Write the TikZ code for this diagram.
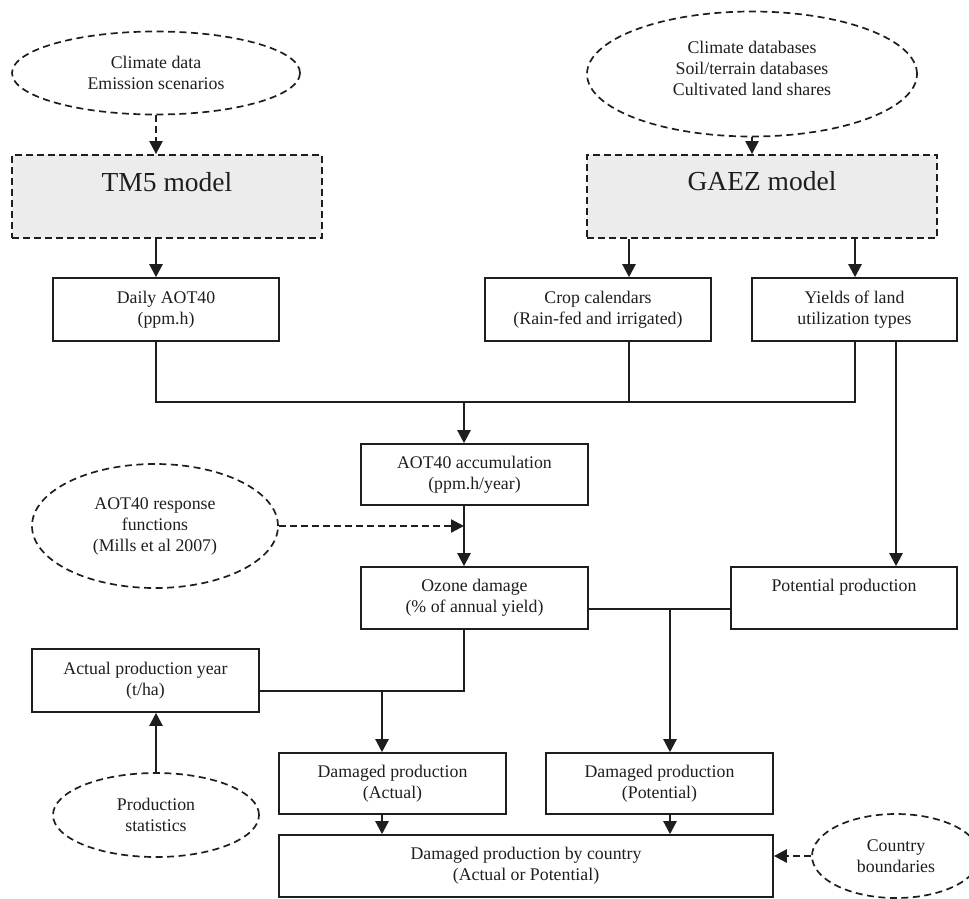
\documentclass[tikz,border=0pt]{standalone}
\usepackage{fontspec}
\setmainfont{Liberation Serif}
\usetikzlibrary{shapes.geometric,arrows.meta}
\definecolor{ink}{HTML}{1E1E1E}
\definecolor{modelfill}{HTML}{ECECEC}
\begin{document}
\begin{tikzpicture}[x=1pt,y=-1pt,
  txt/.style={font=\fontsize{17.8}{21}\selectfont, text=ink},
  bigtxt/.style={font=\fontsize{27.5}{32}\selectfont, text=ink},
  box/.style={txt, draw=ink, line width=1.6pt, rectangle, inner sep=0pt, align=center},
  model/.style={draw=ink, line width=1.8pt, dash pattern=on 7pt off 4pt, fill=modelfill, rectangle, inner sep=0pt},
  oval/.style={txt, draw=ink, line width=1.7pt, dash pattern=on 7pt off 4.5pt, ellipse, inner sep=0pt, align=center},
  link/.style={draw=ink, line width=1.6pt},
  arr/.style={draw=ink, line width=2.3pt, -{Triangle[length=13pt,width=13pt]}},
  darr/.style={arr, dash pattern=on 7pt off 4pt},
]
\useasboundingbox (0,0) rectangle (969,898);
\clip (0,0) rectangle (969,898);

% ellipses
\node[oval, minimum width=288pt, minimum height=83pt] (e1) at (156,73) {Climate data\\Emission scenarios};
\node[oval, minimum width=330pt, minimum height=125pt,
      label={[txt, align=center, yshift=6pt]center:Climate databases\\Soil/terrain databases\\Cultivated land shares}] (e2) at (752,74) {};
\node[oval, minimum width=246pt, minimum height=124pt] (e3) at (155,526) {AOT40 response\\functions\\(Mills et al 2007)};
\node[oval, minimum width=206pt, minimum height=84pt] (e4) at (156,815) {Production\\statistics};
\node[oval, minimum width=168pt, minimum height=84pt] (e5) at (896,856) {Country\\boundaries};

% model boxes
\node[model, minimum width=310pt, minimum height=83pt,
      label={[bigtxt, anchor=base, yshift=-37pt]north:TM5 model}] (tm5) at (167,196.5) {};
\node[model, minimum width=350pt, minimum height=83pt,
      label={[bigtxt, anchor=base, yshift=-36pt]north:GAEZ model}] (gaez) at (762,196.5) {};

% boxes
\node[box, minimum width=226pt, minimum height=63pt] (daily) at (166,309.5) {Daily AOT40\\(ppm.h)};
\node[box, minimum width=226pt, minimum height=63pt] (crop) at (598,309.5) {Crop calendars\\(Rain-fed and irrigated)};
\node[box, minimum width=205pt, minimum height=63pt] (yields) at (854.5,309.5) {Yields of land\\utilization types};
\node[box, minimum width=227pt, minimum height=61pt] (accum) at (474.5,474.5) {AOT40 accumulation\\(ppm.h/year)};
\node[box, minimum width=227pt, minimum height=62pt] (ozone) at (474.5,598) {Ozone damage\\(\% of annual yield)};
\node[box, minimum width=226pt, minimum height=62pt] (potential) at (844,598) {Potential production\\\phantom{(}};
\node[box, minimum width=227pt, minimum height=63pt] (actual) at (145.5,680.5) {Actual production year\\(t/ha)};
\node[box, minimum width=227pt, minimum height=61pt] (dact) at (392.5,783.5) {Damaged production\\(Actual)};
\node[box, minimum width=227pt, minimum height=61pt] (dpot) at (659.5,783.5) {Damaged production\\(Potential)};
\node[box, minimum width=494pt, minimum height=62pt] (country) at (526,866) {Damaged production by country\\(Actual or Potential)};

% guide coordinates
\coordinate (xa) at (156,0);
\coordinate (xb) at (464,0);
\coordinate (xc) at (629,0);
\coordinate (xd) at (855,0);
\coordinate (xe) at (896,0);
\coordinate (xf) at (382,0);
\coordinate (xg) at (670,0);
\coordinate (ya) at (0,402);
\coordinate (yc) at (0,609);
\coordinate (yd) at (0,691);

% connectors
\draw[darr] (e1.south) -- (tm5.north -| e1.south);
\draw[arr] (e2.south) -- (gaez.north -| e2.south);
\draw[arr] (tm5.south -| xa) -- (daily.north -| xa);
\draw[arr] (gaez.south -| xc) -- (crop.north -| xc);
\draw[arr] (gaez.south -| xd) -- (yields.north -| xd);

\draw[link] (daily.south -| xa) -- (xa |- ya) -- (xd |- ya) -- (yields.south -| xd);
\draw[link] (crop.south -| xc) -- (xc |- ya);
\draw[arr] (xb |- ya) -- (accum.north -| xb);
\draw[arr] (yields.south -| xe) -- (potential.north -| xe);

\draw[arr] (accum.south -| xb) -- (ozone.north -| xb);
\draw[darr] (e3.east) -- (xb |- e3.east);

\draw[link] (ozone.east |- yc) -- (potential.west |- yc);
\draw[arr] (xg |- yc) -- (dpot.north -| xg);

\draw[link] (ozone.south -| xb) -- (xb |- yd) -- (actual.east |- yd);
\draw[arr] (xf |- yd) -- (dact.north -| xf);

\draw[arr] (e4.north) -- (actual.south -| e4.north);
\draw[arr] (dact.south -| xf) -- (country.north -| xf);
\draw[arr] (dpot.south -| xg) -- (country.north -| xg);
\draw[darr] (e5.west) -- (country.east |- e5.west);
\end{tikzpicture}
\end{document}
